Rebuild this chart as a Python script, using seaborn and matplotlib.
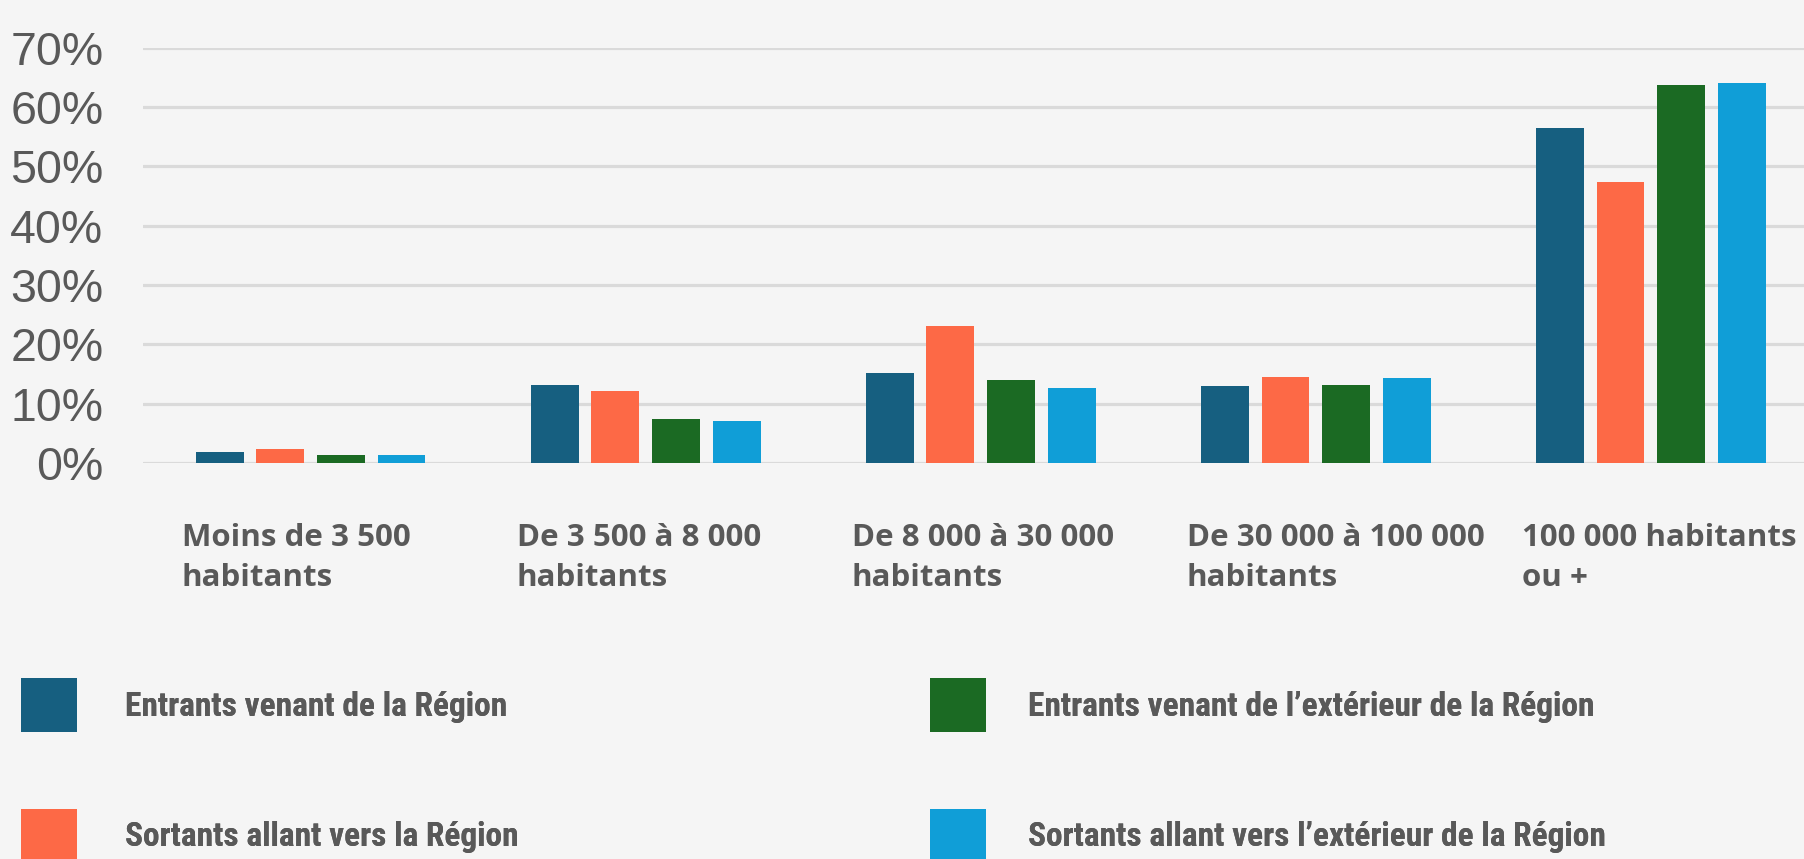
import pandas as pd
import seaborn as sns
import matplotlib.pyplot as plt
from matplotlib import font_manager
from matplotlib.transforms import ScaledTranslation

# Categories (city size) and the four series, values in %
categories = [
    "Moins de 3 500\nhabitants",
    "De 3 500 à 8 000\nhabitants",
    "De 8 000 à 30 000\nhabitants",
    "De 30 000 à 100 000\nhabitants",
    "100 000 habitants\nou +",
]
series = [
    "Entrants venant de la Région",
    "Sortants allant vers la Région",
    "Entrants venant de l’extérieur de la Région",
    "Sortants allant vers l’extérieur de la Région",
]
entrants_region = [1.8, 13.1, 15.2, 13.0, 56.5]
sortants_region = [2.3, 12.2, 23.1, 14.5, 47.3]
entrants_exterieur = [1.3, 7.4, 13.9, 13.2, 63.7]
sortants_exterieur = [1.4, 7.1, 12.6, 14.3, 64.1]
colors = ["#165F80", "#FD6946", "#1B6A23", "#109ED7"]

yticks = [0, 10, 20, 30, 40, 50, 60, 70]
ytick_labels = ["0%", "10%", "20%", "30%", "40%", "50%", "60%", "70%"]

rows = []
for name, vals in zip(series, [entrants_region, sortants_region,
                               entrants_exterieur, sortants_exterieur]):
    for cat, v in zip(categories, vals):
        rows.append({"cat": cat, "serie": name, "val": v})
df = pd.DataFrame(rows)

# pick a condensed font for the legend if one is there
installed = {f.name for f in font_manager.fontManager.ttflist}
narrow = "DejaVu Sans"
for cand in ["Roboto Condensed", "Liberation Sans Narrow", "Open Sans Condensed",
             "DejaVu Sans Condensed"]:
    if cand in installed:
        narrow = cand
        break

bg = "#F5F5F5"
grey = "#595959"

sns.set_theme(style="white")
plt.rcParams["font.family"] = ["Liberation Sans", "DejaVu Sans"]

fig = plt.figure(figsize=(18.04, 8.59), dpi=100, facecolor=bg)
ax = fig.add_axes([143 / 1804, (859 - 463) / 859, 1 - 143 / 1804, (463 - 47.5) / 859])
ax.set_facecolor(bg)

sns.barplot(data=df, x="cat", y="val", hue="serie", hue_order=series,
            order=categories, palette=colors, width=0.724, gap=0.21,
            linewidth=0, saturation=1, ax=ax, zorder=3)

handles, labels = ax.get_legend_handles_labels()
ax.get_legend().remove()

ax.set_xlim(-0.5, 4.457)
ax.set_ylim(0, 70)
ax.set_yticks(yticks)
ax.set_yticklabels(ytick_labels, fontsize=33.5, color=grey)
ax.yaxis.grid(True, color="#DADADA", linewidth=2.3, zorder=0)
ax.set_axisbelow(True)
for s in ax.spines.values():
    s.set_visible(False)
ax.tick_params(axis="y", length=0, pad=28.5)
ax.tick_params(axis="x", length=0, pad=43)
ax.set_xlabel("")
ax.set_ylabel("")

ax.set_xticks(range(len(categories)))
ax.set_xticklabels(categories, fontsize=22.5, fontweight="bold", color=grey,
                   family=["Open Sans", "DejaVu Sans"], ha="left",
                   linespacing=1.45, va="top")
shift = ScaledTranslation(-129 / 100, 0, fig.dpi_scale_trans)
for lab in ax.get_xticklabels():
    lab.set_transform(lab.get_transform() + shift)

# legend: two columns placed by hand
fs = 24
for x0, idx, tpad in [(21, [0, 1], 1.45), (930, [2, 3], 1.25)]:
    leg = fig.legend([handles[i] for i in idx], [labels[i] for i in idx],
                     loc="upper left", bbox_to_anchor=(x0 / 1804, 1 - 678 / 859),
                     frameon=False, borderpad=0, borderaxespad=0,
                     handlelength=1.68, handleheight=2.12, handletextpad=tpad,
                     labelspacing=2.3,
                     prop={"family": [narrow, "DejaVu Sans"], "weight": "bold", "size": fs})
    for t in leg.get_texts():
        t.set_color(grey)
    fig.add_artist(leg)

fig.savefig("out.png", dpi=100, facecolor=bg)
